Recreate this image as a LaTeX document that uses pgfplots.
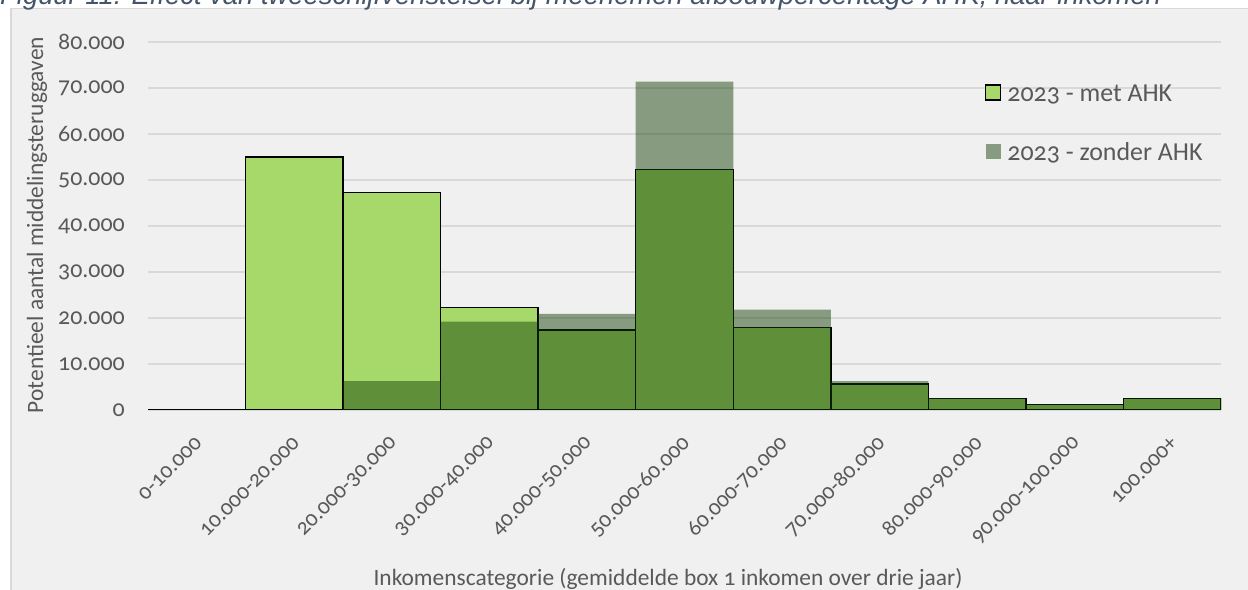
\documentclass[border=0pt]{standalone}
\usepackage{fontspec}
\setmainfont{Carlito}[Numbers={OldStyle,Monospaced}]
\newfontfamily\titlefont{Liberation Sans}
\usepackage{pgfplots}
\pgfplotsset{compat=1.18}

\definecolor{met}{HTML}{A6D96A}
\definecolor{zonder}{RGB}{16,60,0}
\definecolor{txt}{HTML}{595959}
\definecolor{gridc}{HTML}{D9D9D9}
\definecolor{panel}{HTML}{F0F0F0}
\definecolor{titleblue}{HTML}{44546A}

\begin{document}
\begin{tikzpicture}[x=1bp,y=1bp]
% achtergrond en paneel
\fill[white] (0,0) rectangle (1248,590);
\fill[panel] (10,0) rectangle (1248,582);
\draw[gridc, line width=1.5bp] (10.75,0) -- (10.75,581.25) -- (1248,581.25);
\node[overlay, anchor=base west, inner sep=0, text=titleblue,
      font=\titlefont\itshape\fontsize{27.5}{30}\selectfont] at (0,585.5)
  {Figuur 11: Effect van tweeschijfvenstelsel bij meenemen afbouwpercentage AHK, naar inkomen};

\begin{axis}[
    at={(148bp,180bp)}, anchor=south west,
    scale only axis, width=1073bp, height=368bp,
    xmin=-0.5, xmax=10.5, ymin=0, ymax=80000,
    ybar, bar width=1,
    axis line style={draw=none},
    major tick length=0pt,
    ymajorgrids, grid style={gridc, line width=1.5bp},
    ytick={0,10000,...,80000},
    scaled y ticks=false,
    /pgf/number format/.cd, fixed, precision=0, 1000 sep={.}, assume math mode=true,
    /pgfplots/.cd,
    yticklabel style={anchor=east, inner sep=0pt, xshift=-23bp, text=txt, font=\fontsize{24}{26}\selectfont},
    xtick={0,...,10},
    xticklabels={0-10.000,10.000-20.000,20.000-30.000,30.000-40.000,40.000-50.000,50.000-60.000,60.000-70.000,70.000-80.000,80.000-90.000,90.000-100.000,100.000+},
    xticklabel style={xshift=2bp, yshift=-30bp, rotate=45, anchor=east, inner sep=0pt, text=txt, font=\fontsize{22.5}{24}\selectfont},
    legend style={at={(0.78,0.89)}, anchor=north west, draw=none, fill=none,
        inner sep=0pt, outer sep=0pt, row sep=36bp, text=txt,
        font=\fontsize{26}{27}\selectfont, cells={anchor=west},
        /tikz/every odd column/.append style={column sep=4bp}},
    legend cell align=left,
]
\addplot[bar shift=0pt, fill=met, draw=black, line width=1.5bp,
    legend image code/.code={\draw[fill=met, draw=black, line width=1.5bp] (0bp,-6.5bp) rectangle (15bp,8.5bp);}]
coordinates {(0,0) (1,55000) (2,47300) (3,22300) (4,17400) (5,52300) (6,17900) (7,5650) (8,2500) (9,1200) (10,2500)};
\addlegendentry{2023 - met AHK}
\addplot[bar shift=0pt, fill=zonder, fill opacity=0.47, draw=none,
    legend image code/.code={\fill[zonder, fill opacity=0.47] (0bp,-6.5bp) rectangle (15bp,8.5bp);}]
coordinates {(0,0) (1,0) (2,6300) (3,19200) (4,20900) (5,71400) (6,21800) (7,6300) (8,2600) (9,1200) (10,2500)};
\addlegendentry{2023 - zonder AHK}
\end{axis}

\node[anchor=base, inner sep=0, text=txt, font=\fontsize{23.5}{25}\selectfont] at (668,4)
  {Inkomenscategorie (gemiddelde box 1 inkomen over drie jaar)};
\node[anchor=base, rotate=90, inner sep=0, text=txt, font=\fontsize{23.5}{25}\selectfont] at (43,365)
  {Potentieel aantal middelingsteruggaven};

\pgfresetboundingbox
\useasboundingbox (0,0) rectangle (1248,590);
\end{tikzpicture}
\end{document}
